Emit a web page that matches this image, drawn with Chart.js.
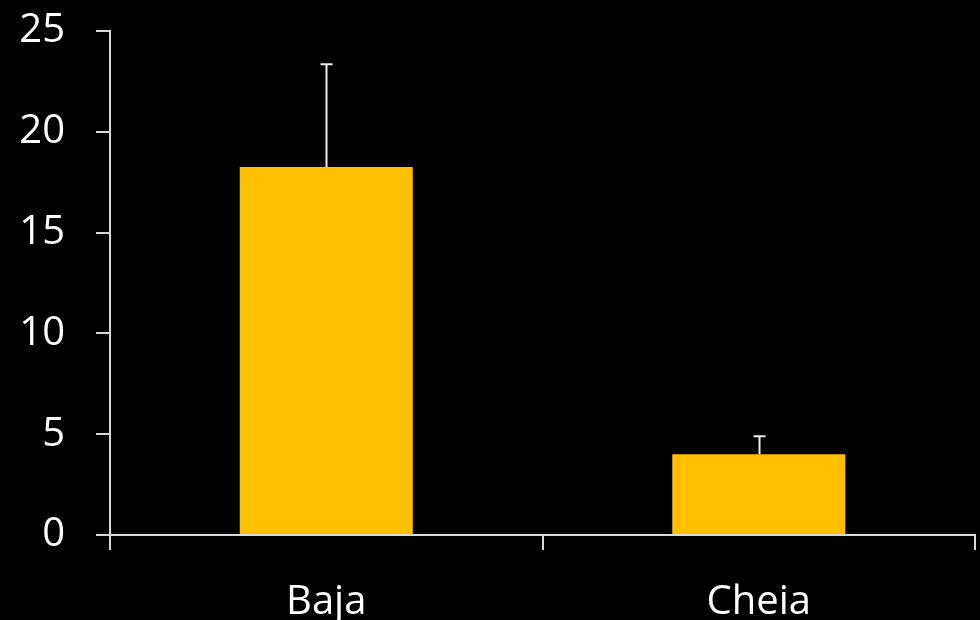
<!DOCTYPE html>
<html>
<head>
<meta charset="utf-8">
<title>Baja vs Cheia</title>
<script src="https://cdn.jsdelivr.net/npm/chart.js@4/dist/chart.umd.min.js"></script>
<style>
  html, body { margin: 0; padding: 0; background: #000; }
  #chart { display: block; }
</style>
</head>
<body>
<canvas id="chart" width="980" height="620"></canvas>
<script>
// Categories, mean values and upper error (standard deviation)
const categories = ['Baja', 'Cheia'];
const means = [18.25, 4.0];
const errors = [5.1, 0.9];
const yTicks = [0, 5, 10, 15, 20, 25];

const axisColor = '#d9d9d9';
const barColor = '#ffc000';
const fontFamily = '"Open Sans", "Liberation Sans", sans-serif';

// Draws upward error bars with a small cap above each bar
const errorBarPlugin = {
  id: 'errorBars',
  afterDatasetsDraw(chart) {
    const ctx = chart.ctx;
    const meta = chart.getDatasetMeta(0);
    const y = chart.scales.y;
    ctx.save();
    ctx.strokeStyle = '#ececec';
    ctx.lineWidth = 2;
    meta.data.forEach((bar, i) => {
      const x = Math.round(bar.x) + 0.5;
      const yBase = y.getPixelForValue(means[i]);
      const yTop = y.getPixelForValue(means[i] + errors[i]);
      ctx.beginPath();
      ctx.moveTo(x, yBase);
      ctx.lineTo(x, yTop);
      ctx.moveTo(x - 6, yTop);
      ctx.lineTo(x + 6, yTop);
      ctx.stroke();
    });
    ctx.restore();
  }
};

new Chart(document.getElementById('chart'), {
  type: 'bar',
  data: {
    labels: categories,
    datasets: [{
      data: means,
      backgroundColor: barColor,
      borderWidth: 0,
      barPercentage: 0.4,
      categoryPercentage: 1.0
    }]
  },
  options: {
    responsive: false,
    animation: false,
    layout: { padding: { top: 31, right: 5, left: 0, bottom: 0 } },
    plugins: {
      legend: { display: false },
      tooltip: { enabled: false }
    },
    scales: {
      x: {
        offset: true,
        grid: {
          offset: true,
          drawOnChartArea: false,
          drawTicks: true,
          tickLength: 15,
          color: axisColor,
          lineWidth: 2
        },
        border: { display: true, color: axisColor, width: 2 },
        ticks: {
          color: '#ffffff',
          font: { family: fontFamily, size: 40 },
          padding: 29
        },
        afterFit(scale) { scale.height = 85; }
      },
      y: {
        min: 0,
        max: 25,
        afterBuildTicks(scale) {
          scale.ticks = yTicks.map(v => ({ value: v }));
        },
        grid: {
          drawOnChartArea: false,
          drawTicks: true,
          tickLength: 14,
          color: axisColor,
          lineWidth: 2
        },
        border: { display: true, color: axisColor, width: 2 },
        ticks: {
          color: '#ffffff',
          font: { family: fontFamily, size: 40 },
          padding: 31
        },
        afterFit(scale) {
          scale.width = 110;
          scale.paddingTop = 0;
          scale.paddingBottom = 0;
        }
      }
    }
  },
  plugins: [errorBarPlugin]
});
</script>
</body>
</html>
